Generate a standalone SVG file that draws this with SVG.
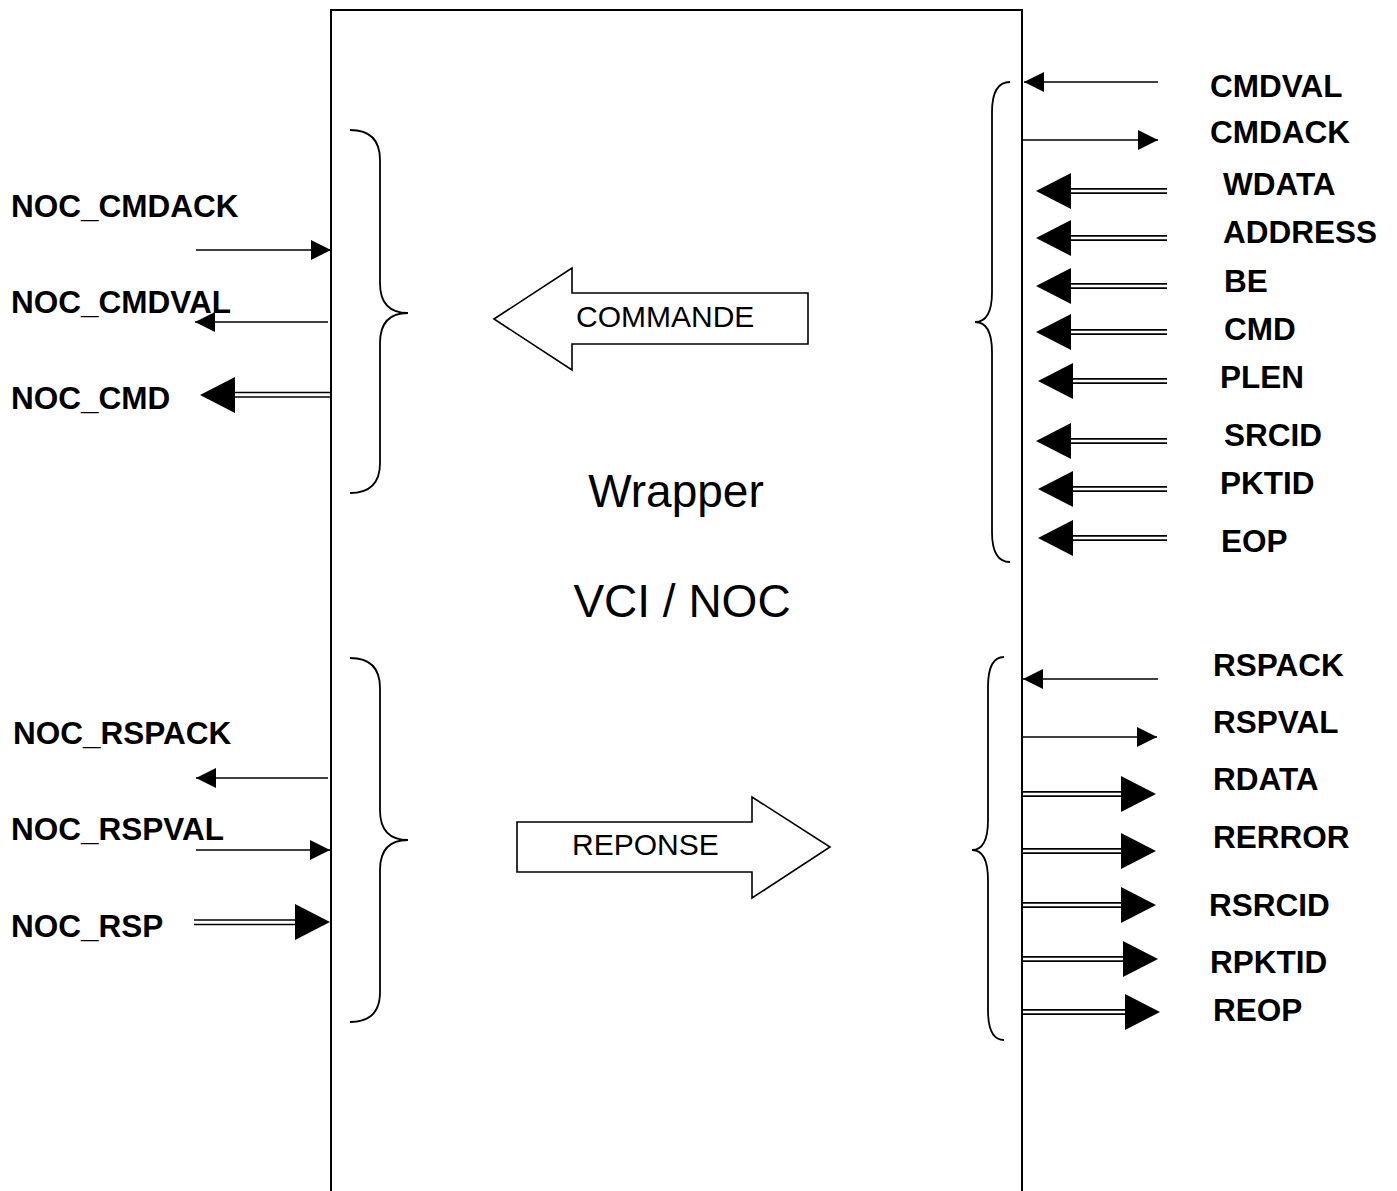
<svg xmlns="http://www.w3.org/2000/svg" xmlns:xlink="http://www.w3.org/1999/xlink" width="1397" height="1191" viewBox="0 0 1397 1191">
<style>
.lbl{font-family:"Liberation Sans",Arial,sans-serif;font-weight:bold;font-size:31.5px;fill:#000}
.big{font-family:"Liberation Sans",Arial,sans-serif;font-size:46px;fill:#000;text-anchor:middle}
.blk{font-family:"Liberation Sans",Arial,sans-serif;font-size:30px;fill:#000}
.ln{stroke:#000;stroke-width:1.6;fill:none}
.dl{stroke:#000;stroke-width:1.7;fill:none}
.br{stroke:#000;stroke-width:1.8;fill:none}
</style>
<defs>
<marker id="ah" markerUnits="userSpaceOnUse" markerWidth="20" markerHeight="20" refX="20" refY="10" orient="auto">
<path d="M0,0 L20,10 L0,20 z" fill="#000"/>
</marker>
<path id="dhR" d="M0,0 L-35,-18 L-35,18 z" fill="#000"/>
<path id="dhL" d="M0,0 L35,-18 L35,18 z" fill="#000"/>
</defs>
<rect width="1397" height="1191" fill="#fff"/>

<g id="wrapper">
<path d="M331,1195 L331,10 L1022,10 L1022,1195" stroke="#000" stroke-width="2" fill="none"/>
<text class="big" x="676" y="507">Wrapper</text>
<text class="big" x="682" y="617" font-size="47">VCI / NOC</text>
</g>

<g id="commande">
<path d="M494,319 L572,268 L572,293 L808,293 L808,344 L572,344 L572,370 z" fill="#fff" stroke="#000" stroke-width="1.6"/>
<text class="blk" x="576" y="327" font-size="31">COMMANDE</text>
</g>
<g id="reponse">
<path d="M517,822 L752,822 L752,797 L830,847 L752,898 L752,872 L517,872 z" fill="#fff" stroke="#000" stroke-width="1.6"/>
<text class="blk" x="572" y="855">REPONSE</text>
</g>

<g id="braces">
<path class="br" d="M350,130 Q380,130 380,160 L380,283 Q380,313 408,313 Q380,313 380,343 L380,463 Q380,493 350,493"/>
<path class="br" d="M350,658 Q380,658 380,688 L380,810 Q380,840 408,840 Q380,840 380,870 L380,992 Q380,1022 350,1022"/>
<path class="br" d="M1010,82 Q992,82 992,112 L992,292 Q992,322 975,322 Q992,322 992,352 L992,532 Q992,562 1010,562"/>
<path class="br" d="M1004,657 Q988,657 988,687 L988,820 Q988,850 972,850 Q988,850 988,880 L988,1010 Q988,1040 1004,1040"/>
</g>

<g id="connectors">
<line class="ln" x1="196" y1="250" x2="331" y2="250" marker-end="url(#ah)"/>
<line class="ln" x1="328" y1="322" x2="195" y2="322" marker-end="url(#ah)"/>
<line class="ln" x1="328" y1="778" x2="196" y2="778" marker-end="url(#ah)"/>
<line class="ln" x1="196" y1="850" x2="330" y2="850" marker-end="url(#ah)"/>
<line class="dl" x1="232" y1="392.5" x2="332" y2="392.5"/>
<line class="dl" x1="232" y1="397" x2="332" y2="397"/>
<use xlink:href="#dhL" x="200" y="395"/>
<line class="dl" x1="194" y1="920" x2="297" y2="920"/>
<line class="dl" x1="194" y1="924.5" x2="297" y2="924.5"/>
<use xlink:href="#dhR" x="330" y="922"/>
<line class="ln" x1="1158" y1="82" x2="1024" y2="82" marker-end="url(#ah)"/>
<line class="ln" x1="1022" y1="140" x2="1158" y2="140" marker-end="url(#ah)"/>
<line class="ln" x1="1158" y1="679" x2="1023" y2="679" marker-end="url(#ah)"/>
<line class="ln" x1="1022" y1="737" x2="1157" y2="737" marker-end="url(#ah)"/>
<g><line class="dl" x1="1068" y1="188.8" x2="1167" y2="188.8"/><line class="dl" x1="1068" y1="193.2" x2="1167" y2="193.2"/><use xlink:href="#dhL" x="1036" y="191"/></g>
<g><line class="dl" x1="1068" y1="235.8" x2="1167" y2="235.8"/><line class="dl" x1="1068" y1="240.2" x2="1167" y2="240.2"/><use xlink:href="#dhL" x="1036" y="238"/></g>
<g><line class="dl" x1="1068" y1="283.8" x2="1167" y2="283.8"/><line class="dl" x1="1068" y1="288.2" x2="1167" y2="288.2"/><use xlink:href="#dhL" x="1036" y="286"/></g>
<g><line class="dl" x1="1068" y1="329.8" x2="1167" y2="329.8"/><line class="dl" x1="1068" y1="334.2" x2="1167" y2="334.2"/><use xlink:href="#dhL" x="1036" y="332"/></g>
<g><line class="dl" x1="1070" y1="378.8" x2="1167" y2="378.8"/><line class="dl" x1="1070" y1="383.2" x2="1167" y2="383.2"/><use xlink:href="#dhL" x="1038" y="381"/></g>
<g><line class="dl" x1="1068" y1="438.8" x2="1167" y2="438.8"/><line class="dl" x1="1068" y1="443.2" x2="1167" y2="443.2"/><use xlink:href="#dhL" x="1036" y="441"/></g>
<g><line class="dl" x1="1070" y1="486.8" x2="1167" y2="486.8"/><line class="dl" x1="1070" y1="491.2" x2="1167" y2="491.2"/><use xlink:href="#dhL" x="1038" y="489"/></g>
<g><line class="dl" x1="1070" y1="535.8" x2="1167" y2="535.8"/><line class="dl" x1="1070" y1="540.2" x2="1167" y2="540.2"/><use xlink:href="#dhL" x="1038" y="538"/></g>
<g><line class="dl" x1="1022" y1="791.8" x2="1123" y2="791.8"/><line class="dl" x1="1022" y1="796.2" x2="1123" y2="796.2"/><use xlink:href="#dhR" x="1156" y="794"/></g>
<g><line class="dl" x1="1022" y1="848.8" x2="1123" y2="848.8"/><line class="dl" x1="1022" y1="853.2" x2="1123" y2="853.2"/><use xlink:href="#dhR" x="1156" y="851"/></g>
<g><line class="dl" x1="1022" y1="902.8" x2="1123" y2="902.8"/><line class="dl" x1="1022" y1="907.2" x2="1123" y2="907.2"/><use xlink:href="#dhR" x="1156" y="905"/></g>
<g><line class="dl" x1="1022" y1="956.8" x2="1125" y2="956.8"/><line class="dl" x1="1022" y1="961.2" x2="1125" y2="961.2"/><use xlink:href="#dhR" x="1158" y="959"/></g>
<g><line class="dl" x1="1022" y1="1009.8" x2="1127" y2="1009.8"/><line class="dl" x1="1022" y1="1014.2" x2="1127" y2="1014.2"/><use xlink:href="#dhR" x="1160" y="1012"/></g>
</g>

<g id="labels-left">
<text class="lbl" x="11" y="217">NOC_CMDACK</text>
<text class="lbl" x="11" y="313">NOC_CMDVAL</text>
<text class="lbl" x="11" y="409">NOC_CMD</text>
<text class="lbl" x="13" y="744">NOC_RSPACK</text>
<text class="lbl" x="11" y="840">NOC_RSPVAL</text>
<text class="lbl" x="11" y="937">NOC_RSP</text>
</g>
<g id="labels-right">
<text class="lbl" x="1210" y="97">CMDVAL</text>
<text class="lbl" x="1210" y="143">CMDACK</text>
<text class="lbl" x="1223" y="195">WDATA</text>
<text class="lbl" x="1223" y="243">ADDRESS</text>
<text class="lbl" x="1224" y="292">BE</text>
<text class="lbl" x="1224" y="340">CMD</text>
<text class="lbl" x="1220" y="388">PLEN</text>
<text class="lbl" x="1224" y="446">SRCID</text>
<text class="lbl" x="1220" y="494">PKTID</text>
<text class="lbl" x="1221" y="552">EOP</text>
<text class="lbl" x="1213" y="676">RSPACK</text>
<text class="lbl" x="1213" y="733">RSPVAL</text>
<text class="lbl" x="1213" y="790">RDATA</text>
<text class="lbl" x="1213" y="848">RERROR</text>
<text class="lbl" x="1209" y="916">RSRCID</text>
<text class="lbl" x="1210" y="973">RPKTID</text>
<text class="lbl" x="1213" y="1021">REOP</text>
</g>
</svg>
